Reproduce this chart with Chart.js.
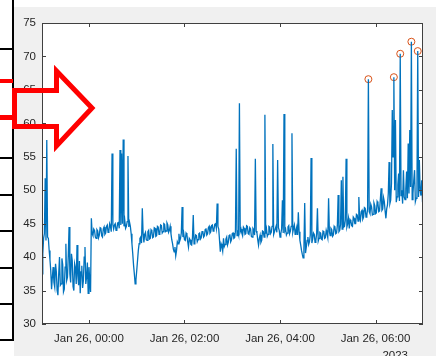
<!DOCTYPE html>
<html>
<head>
<meta charset="utf-8">
<script src="https://cdn.jsdelivr.net/npm/chart.js@4/dist/chart.umd.min.js"></script>
<style>
html, body { margin: 0; padding: 0; background: #fff; }
</style>
</head>
<body>
<canvas id="myChart" width="440" height="356"></canvas>
<script>
// minutes after Jan 25 23:00, one reading per minute
const startMin = 1
const stepMin = 1
const readings = [
    37.5, 40.5, 42.8, 43.5, 51.8, 42.5, 57.5, 43.0, 42.8, 41.0, 39.6, 38.0, 35.2, 37.0,
    38.5, 36.2, 35.5, 39.0, 37.8, 35.0, 34.3, 37.5, 40.0, 35.8,
    36.0, 39.8, 38.9, 34.8, 35.2, 38.5, 42.0, 36.5, 37.0, 40.2,
    44.5, 37.5, 36.2, 40.5, 39.5, 35.6, 35.0, 39.0, 38.4, 36.0,
    41.8, 37.2, 35.8, 39.4, 34.6, 37.8, 38.7, 35.4, 36.5, 40.0,
    41.5, 36.0, 37.0, 39.2, 34.6, 38.5, 36.5, 34.8,
    45.8, 43.5, 43.2, 44.2, 44.0, 43.0, 42.8, 44.1, 43.9, 42.9,
    43.3, 44.4, 44.3, 43.2, 43.0, 44.2, 44.5, 43.4, 43.6, 44.6,
    44.8, 43.7, 43.9, 45.0, 44.6, 43.8, 55.5, 44.9, 44.2, 44.8,
    45.0, 44.0, 44.1, 45.1, 45.2, 44.3, 56.0, 44.8, 55.5, 45.0,
    57.6, 44.6, 45.5, 44.3, 44.6, 45.3, 55.1, 44.5, 45.2, 44.6,
    43.5, 42.0, 40.5, 38.8, 37.5, 36.0, 36.6, 38.0, 39.5, 41.0,
    42.0, 42.8, 43.0, 42.1, 47.3, 43.5, 42.2, 43.4, 43.7, 42.6,
    42.5, 43.8, 44.0, 42.7, 42.8, 44.1, 43.9, 42.9, 43.0, 44.4,
    44.3, 43.1, 43.2, 44.6, 44.5, 43.4, 43.6, 44.8, 44.7, 43.6,
    43.8, 45.0, 44.9, 43.8, 43.9, 45.1, 44.8, 43.7, 44.0, 44.6,
    43.5, 42.6, 42.0, 41.2, 40.8, 41.5, 40.2, 41.0, 42.3, 42.0,
    43.5, 42.4, 42.8, 43.6, 47.5, 43.0, 43.6, 42.6, 42.5, 43.6,
    43.4, 42.3, 41.5, 42.8, 42.6, 41.9, 41.8, 42.9, 46.3, 42.0,
    42.4, 43.3, 43.2, 42.3, 42.6, 43.5, 43.6, 42.7, 42.9, 43.8,
    43.9, 43.0, 43.2, 44.1, 44.3, 43.3, 43.5, 44.4, 44.6, 43.6,
    43.8, 44.7, 44.8, 43.9, 44.1, 44.9, 45.0, 44.3, 48.0, 44.6,
    44.2, 42.5, 40.8, 42.0, 41.6, 40.9, 42.8, 41.6, 41.9, 42.7,
    43.0, 41.8, 42.2, 43.2, 43.4, 42.3, 42.6, 43.5, 43.6, 42.8,
    42.9, 43.9, 56.2, 43.2, 44.0, 43.4, 63.0, 43.8, 44.2, 43.6,
    43.2, 44.5, 44.3, 43.4, 43.5, 44.7, 44.6, 43.5, 43.4, 44.4,
    44.2, 43.1, 43.0, 44.3, 44.1, 43.3, 54.7, 43.9, 43.6, 42.6,
    41.8, 42.8, 43.3, 42.2, 42.5, 43.9, 43.8, 43.0, 61.3, 43.5,
    44.2, 43.1, 43.4, 44.6, 44.5, 43.5, 43.7, 44.6, 56.9, 43.4,
    43.8, 44.2, 44.6, 43.7, 54.5, 44.4, 44.0, 43.0, 43.5, 44.2,
    48.5, 43.6, 61.4, 43.9, 44.2, 43.3, 43.6, 44.5, 44.7, 43.5,
    43.9, 44.6, 58.5, 43.7, 44.3, 44.8, 43.4, 44.0, 44.5, 43.3,
    46.7, 43.8, 42.5, 41.8, 41.0, 40.4, 39.9, 41.2, 48.1, 40.6,
    41.5, 42.5, 43.0, 41.9, 42.3, 43.3, 54.8, 42.1, 42.7, 43.6,
    43.4, 42.2, 42.5, 43.5, 47.3, 42.4, 42.8, 43.7, 43.6, 42.7,
    42.6, 43.9, 43.8, 42.8, 42.9, 44.0, 43.5, 42.9, 48.8, 43.8,
    43.2, 44.3, 44.1, 43.1, 43.3, 44.6, 44.4, 43.5, 43.6, 44.7,
    49.3, 43.8, 44.0, 44.9, 51.5, 44.2, 52.0, 44.5, 44.6, 45.5,
    54.7, 44.5, 45.0, 45.8, 44.3, 45.6, 45.4, 44.7, 44.6, 46.0,
    45.8, 45.0, 45.0, 46.4, 46.3, 45.4, 49.0, 45.9, 45.5, 46.8,
    47.0, 45.7, 46.0, 47.4, 47.3, 46.0, 46.2, 47.2, 66.6, 46.8,
    46.5, 47.9, 47.5, 46.3, 46.4, 48.1, 47.7, 46.5, 46.6, 48.3,
    48.0, 46.8, 46.9, 48.6, 50.3, 47.0, 47.2, 48.9, 48.3, 46.9,
    45.8, 47.2, 47.8, 49.5, 54.2, 48.0, 48.5, 51.0, 62.0, 55.0,
    66.9, 50.0, 60.5, 48.2, 49.0, 50.8, 52.5, 48.4, 70.4, 49.2,
    50.0, 48.0, 53.0, 49.0, 48.6, 50.2, 52.8, 48.8, 57.0, 49.5,
    59.0, 50.5, 72.2, 48.6, 49.5, 51.5, 53.0, 48.3, 48.8, 50.0,
    70.8, 49.0, 54.5, 50.0, 49.2, 51.5, 48.2
]
const peakIdx = [410, 442, 450, 464, 472]
const xTickMins = [60, 180, 300, 420]
const xTickLabels = ['Jan 26, 00:00', 'Jan 26, 02:00', 'Jan 26, 04:00', 'Jan 26, 06:00']
const yTickValues = [30, 35, 40, 45, 50, 55, 60, 65, 70, 75]
const yearLabel = '2023'

const axisColor = '#262626'
const fontFamily = "'Liberation Sans', Arial, Helvetica, sans-serif"

const linePoints = readings.map((v, i) => ({ x: startMin + i * stepMin, y: v }))
const peakPoints = peakIdx.map(i => ({ x: startMin + i * stepMin, y: readings[i] }))

const frame = {
    id: 'frame',
    beforeDraw(chart) {
        const ctx = chart.ctx, a = chart.chartArea
        ctx.save()
        ctx.fillStyle = '#ffffff'
        ctx.fillRect(0, 0, chart.width, chart.height)
        ctx.fillStyle = '#f0f0f0'
        ctx.fillRect(14, 7, 422, 349)
        ctx.fillStyle = '#ffffff'
        ctx.fillRect(a.left, a.top, a.right - a.left, a.bottom - a.top)
        ctx.restore()
    },
    afterDraw(chart) {
        const ctx = chart.ctx, a = chart.chartArea
        const xs = chart.scales.x, ys = chart.scales.y
        ctx.save()
        // axes box
        ctx.strokeStyle = '#404040'
        ctx.lineWidth = 1
        ctx.strokeRect(a.left + 0.5, a.top + 0.5, a.right - a.left - 1, a.bottom - a.top - 1)
        // inward ticks
        ctx.beginPath()
        xTickMins.forEach(m => {
            const px = Math.round(xs.getPixelForValue(m)) + 0.5
            ctx.moveTo(px, a.bottom); ctx.lineTo(px, a.bottom - 4)
            ctx.moveTo(px, a.top); ctx.lineTo(px, a.top + 4)
        })
        yTickValues.forEach(v => {
            const py = Math.round(ys.getPixelForValue(v)) + 0.5
            ctx.moveTo(a.left, py); ctx.lineTo(a.left + 4, py)
            ctx.moveTo(a.right, py); ctx.lineTo(a.right - 4, py)
        })
        ctx.stroke()
        // year under the last tick label
        ctx.fillStyle = axisColor
        ctx.font = '11.5px ' + fontFamily
        ctx.textAlign = 'right'
        ctx.textBaseline = 'middle'
        ctx.fillText(yearLabel, 408, 356)

        // table lines at the left edge of the screenshot
        ctx.fillStyle = '#000000'
        ctx.fillRect(12, 0, 2, 341)
        ;[48, 157, 194, 230, 267, 303, 339].forEach(y => ctx.fillRect(0, y, 13, 2))
        ctx.fillStyle = '#ff0000'
        ctx.fillRect(0, 79, 13, 4)
        ctx.fillRect(0, 115, 13, 5)

        // red outline arrow
        ctx.strokeStyle = '#ff0000'
        ctx.lineWidth = 5
        ctx.lineJoin = 'miter'
        ctx.beginPath()
        ctx.moveTo(14.5, 90.5)
        ctx.lineTo(56.5, 90.5)
        ctx.lineTo(56.5, 71)
        ctx.lineTo(92, 108)
        ctx.lineTo(56.5, 146)
        ctx.lineTo(56.5, 126.5)
        ctx.lineTo(14.5, 126.5)
        ctx.closePath()
        ctx.stroke()
        ctx.restore()
    }
}

new Chart(document.getElementById('myChart'), {
    type: 'line',
    data: {
        datasets: [{
            data: linePoints,
            borderColor: '#0072BD',
            borderWidth: 1.3,
            pointRadius: 0,
            tension: 0,
            fill: false
        }, {
            data: peakPoints,
            showLine: false,
            pointRadius: 3.5,
            pointBorderWidth: 1,
            pointBorderColor: '#D95319',
            pointBackgroundColor: 'rgba(0,0,0,0)',
            borderColor: '#D95319'
        }]
    },
    options: {
        responsive: false,
        animation: false,
        devicePixelRatio: 1,
        layout: { padding: { left: 0, top: 23, right: 17, bottom: 0 } },
        plugins: { legend: { display: false }, tooltip: { enabled: false } },
        scales: {
            x: {
                type: 'linear',
                min: 1,
                max: 479.6,
                grid: { display: false, drawTicks: false },
                border: { display: false },
                afterBuildTicks: s => { s.ticks = xTickMins.map(v => ({ value: v })) },
                afterFit: s => { s.height = 32 },
                ticks: {
                    autoSkip: false,
                    maxRotation: 0,
                    padding: 8,
                    color: axisColor,
                    font: { family: fontFamily, size: 11.5 },
                    callback: (v, i) => xTickLabels[i]
                }
            },
            y: {
                min: 30,
                max: 75,
                grid: { display: false, drawTicks: false },
                border: { display: false },
                afterBuildTicks: s => { s.ticks = yTickValues.map(v => ({ value: v })) },
                afterFit: s => { s.width = 42 },
                ticks: {
                    padding: 6,
                    color: axisColor,
                    font: { family: fontFamily, size: 11.5 }
                }
            }
        }
    },
    plugins: [frame]
})
</script>
</body>
</html>
